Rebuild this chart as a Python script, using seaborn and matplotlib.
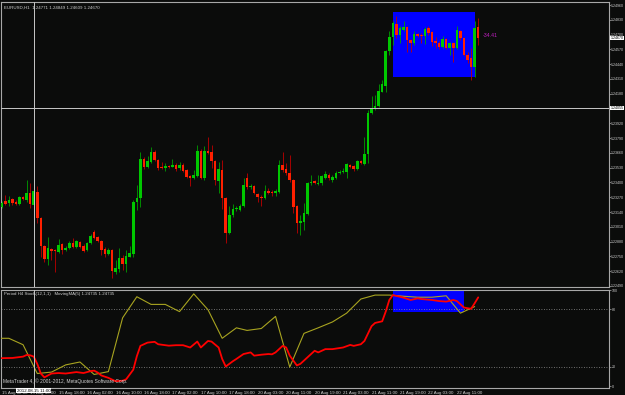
import numpy as np
import pandas as pd
import matplotlib
matplotlib.use("Agg")
import matplotlib.pyplot as plt
import matplotlib.transforms as mtransforms
from matplotlib.patches import Rectangle
import seaborn as sns

# ---------------- data (EURUSD H1) ----------------
opens = [1.23185, 1.23237, 1.23220, 1.23255, 1.23228, 1.23211, 1.23272, 1.23246, 1.23308, 1.23202,
         1.23316, 1.23088, 1.22842, 1.22727, 1.22815, 1.22807, 1.22789, 1.22859, 1.22807, 1.22824,
         1.22868, 1.22833, 1.22877, 1.22842, 1.22807, 1.22868, 1.22965, 1.22921, 1.22886, 1.22815,
         1.22771, 1.22807, 1.22613, 1.22640, 1.22736, 1.22683, 1.22745, 1.22771, 1.23228, 1.23264,
         1.23606, 1.23536, 1.23580, 1.23668, 1.23598, 1.23536, 1.23527, 1.23545, 1.23536, 1.23554,
         1.23527, 1.23554, 1.23510, 1.23457, 1.23439, 1.23457, 1.23677, 1.23439, 1.23677, 1.23668,
         1.23589, 1.23413, 1.23510, 1.23264, 1.22956, 1.23114, 1.23167, 1.23158, 1.23193, 1.23439,
         1.23360, 1.23369, 1.23299, 1.23272, 1.23264, 1.23325, 1.23316, 1.23308, 1.23316, 1.23554,
         1.23519, 1.23483, 1.23422, 1.23193, 1.23044, 1.23053, 1.23123, 1.23395, 1.23413, 1.23387,
         1.23395, 1.23439, 1.23466, 1.23422, 1.23439, 1.23483, 1.23492, 1.23492, 1.23554, 1.23545,
         1.23519, 1.23589, 1.23562, 1.23650, 1.24011, 1.24055, 1.24072, 1.24195, 1.24248, 1.24556,
         1.24679, 1.24793, 1.24696, 1.24740, 1.24767, 1.24652, 1.24626, 1.24705, 1.24696, 1.24688,
         1.24758, 1.24723, 1.24644, 1.24626, 1.24591, 1.24661, 1.24582, 1.24626, 1.24582, 1.24732,
         1.24670, 1.24521, 1.24494, 1.24415, 1.24771]
highs = [1.23237, 1.23290, 1.23281, 1.23264, 1.23246, 1.23281, 1.23281, 1.23422, 1.23395, 1.23369,
         1.23369, 1.23097, 1.22850, 1.22921, 1.22824, 1.22815, 1.22903, 1.22868, 1.22842, 1.22886,
         1.22912, 1.22894, 1.22886, 1.22859, 1.22877, 1.22947, 1.22982, 1.22930, 1.22894, 1.22833,
         1.22824, 1.22815, 1.22719, 1.22824, 1.22763, 1.22807, 1.22842, 1.23246, 1.23378, 1.23668,
         1.23624, 1.23633, 1.23712, 1.23686, 1.23606, 1.23580, 1.23571, 1.23554, 1.23606, 1.23571,
         1.23580, 1.23571, 1.23519, 1.23466, 1.23510, 1.23729, 1.23694, 1.23721, 1.23800, 1.23729,
         1.23598, 1.23580, 1.23598, 1.23272, 1.23193, 1.23211, 1.23193, 1.23211, 1.23439, 1.23483,
         1.23387, 1.23378, 1.23308, 1.23290, 1.23378, 1.23352, 1.23334, 1.23343, 1.23598, 1.23668,
         1.23571, 1.23642, 1.23431, 1.23202, 1.23114, 1.23220, 1.23404, 1.23466, 1.23422, 1.23466,
         1.23466, 1.23501, 1.23483, 1.23466, 1.23501, 1.23510, 1.23527, 1.23571, 1.23562, 1.23554,
         1.23598, 1.23598, 1.23800, 1.24037, 1.24160, 1.24169, 1.24266, 1.24301, 1.24565, 1.24732,
         1.24819, 1.24863, 1.24776, 1.24819, 1.24776, 1.24661, 1.24732, 1.24714, 1.24714, 1.24767,
         1.24776, 1.24732, 1.24679, 1.24644, 1.24688, 1.24670, 1.24635, 1.24635, 1.24776, 1.24740,
         1.24679, 1.24547, 1.24582, 1.24819, 1.24849]
lows = [1.23176, 1.23202, 1.23193, 1.23202, 1.23202, 1.23202, 1.23246, 1.23228, 1.23176, 1.23193,
        1.23044, 1.22745, 1.22701, 1.22675, 1.22719, 1.22613, 1.22780, 1.22771, 1.22798, 1.22815,
        1.22824, 1.22824, 1.22824, 1.22789, 1.22798, 1.22859, 1.22903, 1.22877, 1.22763, 1.22745,
        1.22763, 1.22560, 1.22596, 1.22613, 1.22631, 1.22613, 1.22745, 1.22745, 1.23158, 1.23185,
        1.23519, 1.23527, 1.23571, 1.23589, 1.23510, 1.23519, 1.23501, 1.23527, 1.23536, 1.23501,
        1.23510, 1.23492, 1.23439, 1.23369, 1.23431, 1.23448, 1.23431, 1.23422, 1.23650, 1.23527,
        1.23378, 1.23308, 1.23167, 1.22868, 1.22947, 1.23097, 1.23149, 1.23149, 1.23185, 1.23343,
        1.23343, 1.23299, 1.23228, 1.23193, 1.23255, 1.23299, 1.23281, 1.23281, 1.23308, 1.23492,
        1.23466, 1.23404, 1.23132, 1.22956, 1.22938, 1.22982, 1.23114, 1.23378, 1.23387, 1.23378,
        1.23378, 1.23431, 1.23422, 1.23404, 1.23431, 1.23475, 1.23483, 1.23439, 1.23527, 1.23501,
        1.23510, 1.23562, 1.23554, 1.23571, 1.24002, 1.24037, 1.24064, 1.24195, 1.24195, 1.24521,
        1.24608, 1.24670, 1.24626, 1.24732, 1.24547, 1.24547, 1.24608, 1.24679, 1.24626, 1.24617,
        1.24696, 1.24600, 1.24582, 1.24573, 1.24582, 1.24573, 1.24521, 1.24459, 1.24573, 1.24652,
        1.24512, 1.24450, 1.24301, 1.24327, 1.24609]
closes = [1.23220, 1.23211, 1.23246, 1.23220, 1.23211, 1.23272, 1.23255, 1.23308, 1.23211, 1.23325,
          1.23088, 1.22842, 1.22727, 1.22824, 1.22798, 1.22798, 1.22850, 1.22807, 1.22824, 1.22868,
          1.22833, 1.22886, 1.22833, 1.22798, 1.22868, 1.22930, 1.22912, 1.22886, 1.22807, 1.22771,
          1.22807, 1.22622, 1.22648, 1.22736, 1.22683, 1.22754, 1.22780, 1.23228, 1.23264, 1.23606,
          1.23536, 1.23589, 1.23668, 1.23598, 1.23527, 1.23527, 1.23545, 1.23536, 1.23554, 1.23519,
          1.23554, 1.23501, 1.23448, 1.23439, 1.23466, 1.23677, 1.23439, 1.23677, 1.23659, 1.23589,
          1.23422, 1.23519, 1.23264, 1.22956, 1.23114, 1.23167, 1.23176, 1.23193, 1.23378, 1.23360,
          1.23369, 1.23308, 1.23272, 1.23264, 1.23325, 1.23308, 1.23308, 1.23325, 1.23554, 1.23510,
          1.23483, 1.23422, 1.23185, 1.23044, 1.23061, 1.23132, 1.23395, 1.23404, 1.23395, 1.23395,
          1.23457, 1.23475, 1.23439, 1.23448, 1.23483, 1.23492, 1.23501, 1.23562, 1.23536, 1.23519,
          1.23589, 1.23571, 1.23650, 1.24011, 1.24055, 1.24072, 1.24204, 1.24266, 1.24556, 1.24679,
          1.24802, 1.24696, 1.24758, 1.24767, 1.24652, 1.24626, 1.24705, 1.24688, 1.24688, 1.24749,
          1.24714, 1.24635, 1.24626, 1.24591, 1.24661, 1.24582, 1.24626, 1.24582, 1.24740, 1.24670,
          1.24521, 1.24477, 1.24415, 1.24758, 1.24670]

# H4 stochastic on the H1 chart (one point per H4 bar)
stoch_bars = [-2, 2, 6, 10, 14, 18, 22, 26, 30, 34, 38, 42, 46, 50, 54, 58, 62, 66,
              69, 73, 77, 81, 85, 89, 93, 97, 101, 105, 109, 113, 117, 121, 125, 129, 133]
stoch_vals = [49.7, 49.7, 43, 13, 14.5, 22, 25, 12, 15, 71, 93, 85, 85, 77.5, 96, 79.5, 49.7, 60.6,
              57.9, 59.9, 72.5, 19.7, 54.8, 60.6, 66.7, 75.9, 90.6, 94.7, 94.7, 93.5, 92.5, 92.5, 94, 75.9, 82.7]
# moving average line (red)
ma_bars = [0, 3, 6, 7, 8, 9, 10, 11, 12, 13, 14, 16, 18, 20, 21, 23, 25, 26, 27, 28,
           30, 32, 34, 35, 36, 37, 38, 39, 41, 43, 44, 47, 49, 51, 53, 55, 56, 58, 59, 61,
           62, 63, 65, 66, 68, 70, 71, 73, 75, 76, 77, 79, 80, 81, 83, 84, 86, 88, 89, 91,
           93, 96, 98, 99, 101, 102, 104, 105, 107, 108, 109, 110, 112, 113, 115, 117, 118, 121, 123, 125,
           127, 128, 130, 132, 133, 134]
ma_vals = [29, 29.2, 30.6, 32.3, 32, 30.6, 23, 13, 9, 11, 13, 13.5, 13, 14, 14.5, 13.5, 15.5, 16, 14, 11,
           8.5, 5, 5.5, 7, 12, 17, 31, 41.8, 45.2, 46, 43.5, 42, 42.5, 42.5, 40.1, 46.3, 40.1, 46.9, 46.3, 40.1,
           28.2, 20.3, 25.8, 28.2, 33.3, 35, 31.6, 32.6, 33.3, 33, 35, 41.8, 40.1, 31.6, 21.4, 23.1, 29.9, 36.7, 35, 38.4,
           38.4, 40.1, 42.8, 41.8, 43.5, 46.9, 62.3, 65.7, 67.4, 77.6, 89.6, 94.7, 93, 92, 89.6, 91.3, 90.6, 89.6, 88.5, 87.9,
           89.6, 88.5, 81.7, 80.4, 86.2, 92.3]

price_ticks = [1.24960, 1.24830, 1.24700, 1.24570, 1.24440, 1.24310, 1.24180, 1.24050, 1.23920, 1.23790,
               1.23660, 1.23530, 1.23400, 1.23270, 1.23140, 1.23010, 1.22880, 1.22750, 1.22620, 1.22490]
time_tick_bars = [0, 8, 16, 24, 32, 40, 48, 56, 64, 72, 80, 88, 96, 104, 112, 120, 128]
time_labels = ["15 Aug 02:00", "15 Aug 10:00", "15 Aug 18:00", "16 Aug 02:00", "16 Aug 10:00",
               "16 Aug 18:00", "17 Aug 02:00", "17 Aug 10:00", "17 Aug 18:00", "20 Aug 03:00",
               "20 Aug 11:00", "20 Aug 19:00", "21 Aug 03:00", "21 Aug 11:00", "21 Aug 19:00",
               "22 Aug 03:00", "22 Aug 11:00"]
osc_ticks = [0, 20, 80, 100]
osc_levels = [20, 80]

rect_bars = [110, 133]
rect_prices = [1.24330, 1.24899]
rect_osc_bars = [110, 130]
rect_osc_vals = [77.5, 100]

crosshair_bar = 9
crosshair_price = 1.24055
crosshair_time = "2012.08.15 11:00"
title_text = "EURUSD,H1  1.24771 1.24849 1.24609 1.24670"
osc_title = "Period H4 Stoch(12,1,1)   MovingMA(5) 1.24735 1.24735"
copyright_text = "MetaTrader 4, \u00a9 2001-2012, MetaQuotes Software Corp."
object_label = "-34.41"

# ---------------- style ----------------
BG = "#0b0c0b"
FG = "#d0d0d0"
FRAME = "#a8a8a8"
UP, DOWN = "#00c800", "#ff2000"
UP_W, DOWN_W = "#00a000", "#c00000"
OLIVE = "#a8a420"
FS = 3.2
FS_AX = 2.6

sns.set_style("dark", {"axes.facecolor": BG, "figure.facecolor": BG,
                       "axes.edgecolor": FRAME, "grid.color": BG})
plt.rcParams["font.family"] = ["Liberation Sans", "DejaVu Sans"]

W, H = 625, 395
fig = plt.figure(figsize=(W / 100, H / 100), dpi=100, facecolor=BG)


def px_axes(x0, y0, x1, y1):
    return fig.add_axes([x0 / W, 1 - y1 / H, (x1 - x0) / W, (y1 - y0) / H])


def ftext(x, y, s, **kw):
    fig.text(x / W, 1 - y / H, s, **kw)


ax = px_axes(1.5, 1.5, 608.5, 287.0)
ax2 = px_axes(1.5, 290.0, 608.5, 387.5)
XLIM = (-0.06, 170.64)

for a in (ax, ax2):
    a.set_facecolor(BG)
    a.grid(False)
    a.set_xlim(*XLIM)
    for s in a.spines.values():
        s.set_color(FRAME)
        s.set_linewidth(0.8)

# ---------------- candles ----------------
df = pd.DataFrame({"bar": np.arange(len(closes)), "open": opens, "high": highs,
                   "low": lows, "close": closes})
df["up"] = df["close"] >= df["open"]
df["bottom"] = df[["open", "close"]].min(axis=1)
df["height"] = (df["close"] - df["open"]).abs().clip(lower=0.00003)

ax.add_patch(Rectangle((rect_bars[0], rect_prices[0]), rect_bars[1] - rect_bars[0],
                       rect_prices[1] - rect_prices[0], facecolor="#0000ff", edgecolor="none", zorder=1))
for flag, wc, bc in ((True, UP_W, UP), (False, DOWN_W, DOWN)):
    d = df[df["up"] == flag]
    ax.vlines(d["bar"], d["low"], d["high"], color=wc, lw=0.6, zorder=3)
    ax.bar(d["bar"], d["height"], bottom=d["bottom"], width=0.72, color=bc, lw=0, zorder=4)

ax.set_ylim(1.22481, 1.24991)
ax.yaxis.tick_right()
ax.set_yticks(price_ticks)
# the tick label hidden under the crosshair price box is left blank
ax.set_yticklabels(["" if abs(p - crosshair_price) < 0.0003 else f"{p:.5f}" for p in price_ticks])
ax.set_xticks([])
ax.tick_params(axis="y", colors=FRAME, labelcolor=FG, length=1.5, width=0.5, pad=0.4, labelsize=FS_AX)

trans = mtransforms.blended_transform_factory(ax.transAxes, ax.transData)
for p in (closes[-1], crosshair_price):
    ax.text(1.003, p, f"{p:.5f}", transform=trans, fontsize=FS_AX, color="black", va="center",
            ha="left", clip_on=False, zorder=10,
            bbox=dict(facecolor="white", edgecolor="none", pad=0.25))

ax.axhline(crosshair_price, color="#c8c8c8", lw=0.7, zorder=6)
ax.axvline(crosshair_bar, color="#c8c8c8", lw=0.7, zorder=6)
ax.text(len(closes) + 0.3, closes[-1] + 0.0002, object_label, color="#c020c0",
        fontsize=FS + 0.6, va="center", ha="left", zorder=7)

# ---------------- oscillator ----------------
ax2.add_patch(Rectangle((rect_osc_bars[0], rect_osc_vals[0]), rect_osc_bars[1] - rect_osc_bars[0],
                        rect_osc_vals[1] - rect_osc_vals[0], facecolor="#0000ff", edgecolor="none", zorder=1))
for lv in osc_levels:
    ax2.axhline(lv, color="#909090", lw=0.6, ls=(0, (1, 2)), zorder=2)
sns.lineplot(x=stoch_bars, y=stoch_vals, ax=ax2, color=OLIVE, lw=0.8, estimator=None, zorder=3)
sns.lineplot(x=ma_bars, y=ma_vals, ax=ax2, color="#ff0000", lw=1.3, estimator=None, zorder=4)
ax2.axvline(crosshair_bar, color="#c8c8c8", lw=0.7, zorder=6)
ax2.set_ylim(-1.56, 100)
ax2.set_xlim(*XLIM)
ax2.set_xlabel("")
ax2.set_ylabel("")
ax2.yaxis.tick_right()
ax2.set_yticks(osc_ticks)
ax2.set_yticklabels([str(t) for t in osc_ticks])
ax2.set_xticks(time_tick_bars)
ax2.set_xticklabels(time_labels, ha="left")
ax2.tick_params(axis="y", colors=FRAME, labelcolor=FG, length=1.5, width=0.5, pad=0.6, labelsize=FS_AX)
ax2.tick_params(axis="x", colors=FRAME, labelcolor=FG, length=2, width=0.5, pad=0.5, labelsize=FS)

ttrans = mtransforms.blended_transform_factory(ax2.transData, fig.transFigure)
ax2.text(crosshair_bar, 1 - 390.5 / H, crosshair_time, transform=ttrans, fontsize=FS, color="black",
         ha="center", va="center", clip_on=False, zorder=10,
         bbox=dict(facecolor="white", edgecolor="none", pad=0.5))

# ---------------- texts ----------------
ftext(4, 7.5, title_text, fontsize=FS, color=FG, va="center", ha="left")
ftext(4, 294.5, osc_title, fontsize=FS, color=FG, va="center", ha="left")
ftext(3, 381, copyright_text, fontsize=FS + 0.3, color=FG, va="center", ha="left")

fig.savefig("out.png", dpi=100, facecolor=BG)
